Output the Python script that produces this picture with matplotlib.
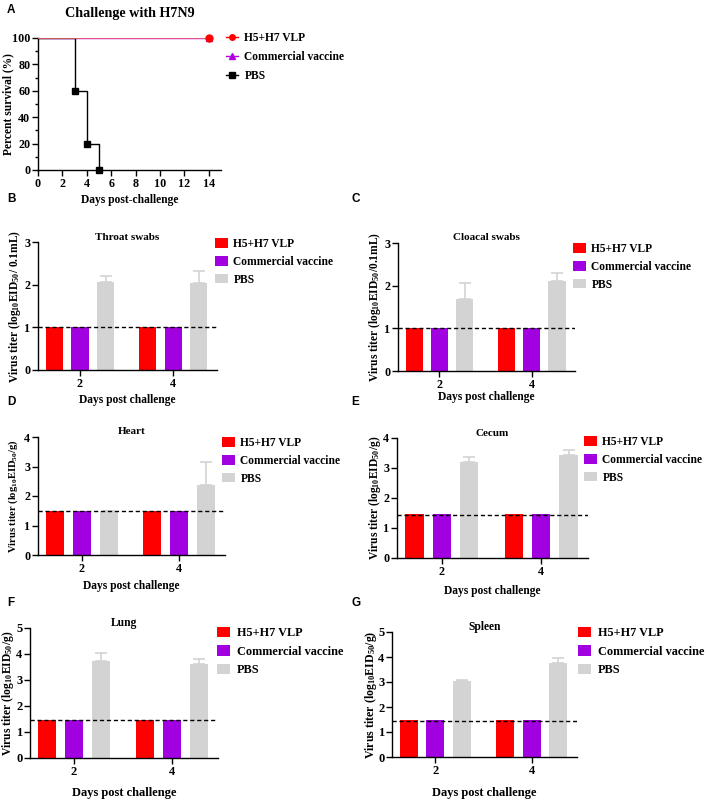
import matplotlib
matplotlib.use("Agg")
import matplotlib.pyplot as plt
from matplotlib.lines import Line2D
from matplotlib.ticker import MultipleLocator
import numpy as np

plt.rcParams['font.family'] = ['Liberation Serif', 'DejaVu Serif']
plt.rcParams['font.weight'] = 'bold'
plt.rcParams['axes.labelweight'] = 'bold'
plt.rcParams['mathtext.fontset'] = 'custom'
plt.rcParams['mathtext.rm'] = 'Liberation Serif:bold'
plt.rcParams['mathtext.it'] = 'Liberation Serif:bold'
plt.rcParams['mathtext.bf'] = 'Liberation Serif:bold'
plt.rcParams['mathtext.default'] = 'rm'

# ---------------- data ----------------
# Panel A: survival
days_vlp = [0, 14]
surv_vlp = [100, 100]
days_comm = [0, 14]
surv_comm = [100, 100]
days_pbs = [0, 3, 4, 5]
surv_pbs = [100, 60, 20, 0]

groups = ["H5+H7 VLP", "Commercial vaccine", "PBS"]
day_labels = ["2", "4"]

# Bar panels: values per group [day2, day4], PBS error (upper)
throat_vlp = [1.0, 1.0]
throat_comm = [1.0, 1.0]
throat_pbs = [2.07, 2.05]
throat_pbs_err = [0.13, 0.28]

cloacal_vlp = [1.0, 1.0]
cloacal_comm = [1.0, 1.0]
cloacal_pbs = [1.68, 2.11]
cloacal_pbs_err = [0.39, 0.19]

heart_vlp = [1.5, 1.5]
heart_comm = [1.5, 1.5]
heart_pbs = [1.5, 2.37]
heart_pbs_err = [0.0, 0.78]

cecum_vlp = [1.47, 1.47]
cecum_comm = [1.47, 1.47]
cecum_pbs = [3.2, 3.45]
cecum_pbs_err = [0.17, 0.15]

lung_vlp = [1.47, 1.47]
lung_comm = [1.47, 1.47]
lung_pbs = [3.72, 3.6]
lung_pbs_err = [0.3, 0.22]

spleen_vlp = [1.47, 1.47]
spleen_comm = [1.47, 1.47]
spleen_pbs = [3.03, 3.75]
spleen_pbs_err = [0.07, 0.23]

W, H = 708, 801
fig = plt.figure(figsize=(W / 100, H / 100), dpi=100)


def fx(x):
    return x / W


def fy(y):
    return 1 - y / H


def add_ax(left, top, right, bottom):
    return fig.add_axes([left / W, 1 - bottom / H, (right - left) / W, (bottom - top) / H])


def style_ax(ax, tsize):
    for s in ['top', 'right']:
        ax.spines[s].set_visible(False)
    for s in ['left', 'bottom']:
        ax.spines[s].set_linewidth(1.0)
    ax.tick_params(labelsize=tsize, width=1.0, length=4, pad=1.5)
    for lab in ax.get_xticklabels() + ax.get_yticklabels():
        lab.set_fontweight('bold')


def panel_label(x, y, s):
    fig.text(fx(x), fy(y), s, fontsize=8.5, fontweight='bold',
             family='Liberation Sans', ha='left', va='top')


# ---------------- Panel A ----------------
axA = add_ax(38, 38, 221, 170)
axA.plot(days_comm, surv_comm, color='#B000E0', lw=1.0, marker='^', ms=4,
         markevery=[1], label=groups[1])
axA.step(days_pbs, surv_pbs, where='post', color='black', lw=1.0)
axA.plot(days_pbs[1:], surv_pbs[1:], ls='none', marker='s', ms=5, color='black', clip_on=False)
axA.plot(days_vlp, surv_vlp, color='#F06868', lw=1.2, zorder=3)
axA.plot(days_vlp[-1:], surv_vlp[-1:], ls='none', marker='o', ms=5, color='#FF0000',
         zorder=4, clip_on=False)
axA.set_xlim(0, 15)
axA.set_ylim(0, 100)
axA.set_xticks(np.arange(0, 15, 2))
axA.set_yticks(np.arange(0, 101, 20))
axA.yaxis.set_minor_locator(MultipleLocator(10))
style_ax(axA, 8.7)
axA.tick_params(which='minor', length=2, width=1.0)
fig.text(fx(8), fy(104), "Percent survival (%)", rotation=90, ha='center', va='center',
         fontsize=8.3, fontweight='bold')
fig.text(fx(130), fy(200), "Days post-challenge", ha='center', va='center',
         fontsize=8.3, fontweight='bold')
fig.text(fx(130), fy(13), "Challenge with H7N9", ha='center', va='center',
         fontsize=10.2, fontweight='bold')
hA = [Line2D([0], [0], color='#FF0000', marker='o', ms=4, lw=1.0),
      Line2D([0], [0], color='#B000E0', marker='^', ms=4, lw=1.0),
      Line2D([0], [0], color='black', marker='s', ms=4, lw=1.0)]
axA.legend(hA, groups, loc='upper left', bbox_to_anchor=(fx(226), fy(32)),
           bbox_transform=fig.transFigure, frameon=False, borderaxespad=0, borderpad=0,
           prop={'family': 'Liberation Serif', 'weight': 'bold', 'size': 8.3},
           handlelength=1.0, handletextpad=0.6, labelspacing=0.62)
panel_label(7, 4, "A")

# ---------------- Bar panels ----------------
bar_colors = ['#FF0000', '#A100E0', '#D3D3D3']


def bar_panel(box, title, vlp, comm, pbs, pbs_err, ymax, lod, ylabel,
              ylab_x, xlab_y, leg_xy, fs_y, fs_x, fs_t, fs_tick, fs_leg):
    left, top, right, bottom = box
    ax = add_ax(*box)
    x = np.arange(len(day_labels))
    off = 0.275
    w = 0.185
    ax.bar(x - off, vlp, w, color=bar_colors[0], label=groups[0])
    ax.bar(x, comm, w, color=bar_colors[1], label=groups[1])
    ax.bar(x + off, pbs, w, color=bar_colors[2], label=groups[2],
           yerr=[np.zeros(len(pbs_err)), pbs_err], ecolor=bar_colors[2],
           capsize=4, error_kw={'elinewidth': 1.2, 'capthick': 1.2})
    ax.axhline(lod, color='black', ls=(0, (3, 2)), lw=1.0, zorder=5)
    ax.set_xlim(-0.45, 1.47)
    ax.set_ylim(0, ymax)
    ax.set_yticks(np.arange(0, ymax + 1, 1))
    ax.set_xticks(x)
    ax.set_xticklabels(day_labels)
    style_ax(ax, fs_tick)
    fig.text(fx((left + right) / 2), fy(xlab_y), "Days post challenge", ha='center',
             va='center', fontsize=fs_x, fontweight='bold')
    fig.text(fx(ylab_x), fy((top + bottom) / 2), ylabel, rotation=90, ha='center',
             va='center', fontsize=fs_y, fontweight='bold')
    fig.text(fx((left + right) / 2), fy(top - 5), title, ha='center', va='center',
             fontsize=fs_t, fontweight='bold')
    ax.legend(loc='upper left', bbox_to_anchor=(fx(leg_xy[0]), fy(leg_xy[1])),
              bbox_transform=fig.transFigure, frameon=False, borderaxespad=0, borderpad=0,
              prop={'family': 'Liberation Serif', 'weight': 'bold', 'size': fs_leg},
              handlelength=1.1, handleheight=0.9, handletextpad=0.5, labelspacing=0.5)
    return ax


ylab_swab_b = r"Virus titer (log$_{10}$EID$_{50}$/ 0.1mL)"
ylab_swab_c = r"Virus titer (log$_{10}$EID$_{50}$/0.1mL)"
ylab_g = r"Virus titer (log$_{10}$EID$_{50}$/g)"

bar_panel((38, 242, 217, 370), "Throat swabs", throat_vlp, throat_comm, throat_pbs,
          throat_pbs_err, 3, 1.0, ylab_swab_b, 15, 400, (215, 238),
          8.3, 8.3, 8.0, 8.7, 8.3)
bar_panel((398, 243, 575, 371), "Cloacal swabs", cloacal_vlp, cloacal_comm, cloacal_pbs,
          cloacal_pbs_err, 3, 1.0, ylab_swab_c, 375, 397, (573, 243),
          8.3, 8.3, 8.0, 8.7, 8.3)
bar_panel((38, 437, 225, 555), "Heart", heart_vlp, heart_comm, heart_pbs,
          heart_pbs_err, 4, 1.5, ylab_g, 13, 586, (222, 437),
          7.6, 8.3, 8.0, 8.7, 8.3)
bar_panel((397, 438, 588, 558), "Cecum", cecum_vlp, cecum_comm, cecum_pbs,
          cecum_pbs_err, 4, 1.45, ylab_g, 375, 591, (584, 436),
          8.3, 8.3, 8.0, 8.7, 8.3)
bar_panel((30, 628, 218, 758), "Lung", lung_vlp, lung_comm, lung_pbs,
          lung_pbs_err, 5, 1.47, ylab_g, 8, 793, (217, 627),
          8.4, 9.0, 8.3, 9.0, 8.8)
bar_panel((392, 632, 577, 757), "Spleen", spleen_vlp, spleen_comm, spleen_pbs,
          spleen_pbs_err, 5, 1.45, ylab_g, 371, 793, (578, 627),
          8.6, 9.0, 8.3, 9.0, 8.8)

panel_label(7, 193, "B")
panel_label(351, 193, "C")
panel_label(7, 396, "D")
panel_label(351, 396, "E")
panel_label(7, 597, "F")
panel_label(351, 597, "G")

fig.savefig("out.png", dpi=100)
